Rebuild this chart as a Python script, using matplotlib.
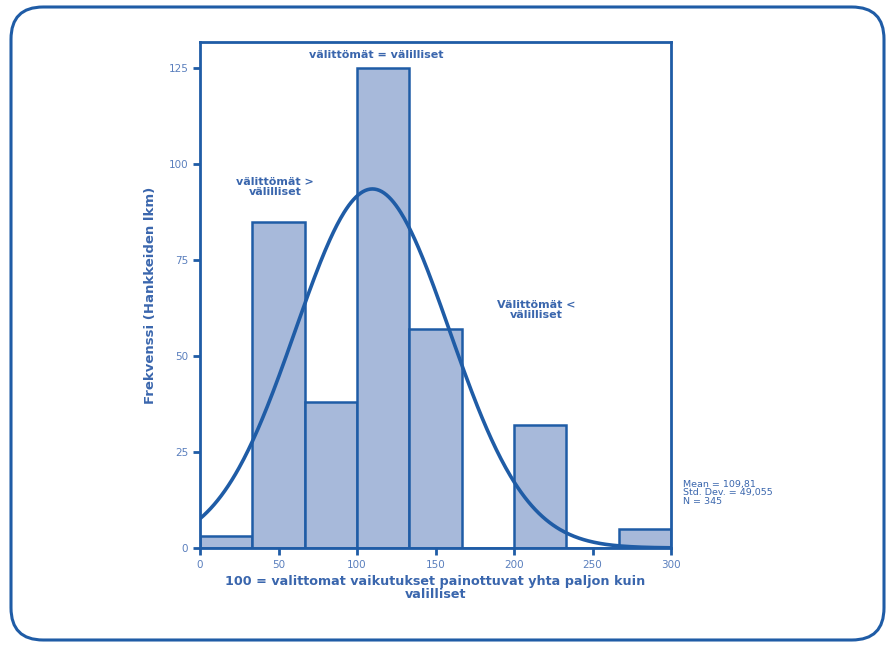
import numpy as np
import matplotlib
matplotlib.use("Agg")
import matplotlib.pyplot as plt
from matplotlib.patches import FancyBboxPatch

# Data
bin_edges = [0, 33.333, 66.667, 100, 133.333, 166.667, 200, 233.333, 266.667, 300]
counts = [3, 85, 38, 125, 57, 0, 32, 0, 5]
mean_val = 109.81
sd_val = 49.055
n_val = 345
x_ticks = [0, 50, 100, 150, 200, 250, 300]
y_ticks = [0, 25, 50, 75, 100, 125]

blue = "#1f5ca6"
txt = "#3a66ad"
fill = "#a7b9da"

fig = plt.figure(figsize=(8.93, 6.46), dpi=100)
frame = FancyBboxPatch((11/893, 6/646), (884-11)/893, (639-6)/646,
                       boxstyle="round,pad=0,rounding_size=0.036",
                       transform=fig.transFigure, fill=False,
                       edgecolor="#1f5ca6", linewidth=2.2, mutation_aspect=893/646)
fig.patches.append(frame)

ax = fig.add_axes([200/893, 1-548/646, (671-200)/893, (548-42)/646])
widths = np.diff(bin_edges)
ax.bar(bin_edges[:-1], counts, width=widths, align="edge", color=fill,
       edgecolor=blue, linewidth=1.8)
xs = np.linspace(0, 300, 400)
bw = 300/9
ys = n_val*bw/(sd_val*np.sqrt(2*np.pi))*np.exp(-0.5*((xs-mean_val)/sd_val)**2)
ax.plot(xs, ys, color=blue, linewidth=2.6)

ax.set_xlim(0, 300)
ax.set_ylim(0, 131.8)
ax.set_xticks(x_ticks)
ax.set_yticks(y_ticks)
for s in ax.spines.values():
    s.set_color(blue)
    s.set_linewidth(2)
ax.tick_params(axis="both", colors=blue, length=5, width=2, labelsize=7.5,
               labelcolor="#5a7fbd", direction="out")

ax.set_ylabel("Frekvenssi (Hankkeiden lkm)", color=txt, fontsize=9.5,
              fontweight="bold", labelpad=8)
ax.set_xlabel("100 = valittomat vaikutukset painottuvat yhta paljon kuin\nvalilliset",
              color=txt, fontsize=9.2, fontweight="bold", labelpad=4, linespacing=0.95)

ax.text(112, 128.5, "välittömät = välilliset", color=txt, fontsize=8, fontweight="bold",
        ha="center", va="center")
ax.text(48, 94, "välittömät >\nvälilliset", color=txt, fontsize=8, fontweight="bold",
        ha="center", va="center", linespacing=1.0)
ax.text(214, 62, "Välittömät <\nvälilliset", color=txt, fontsize=8, fontweight="bold",
        ha="center", va="center", linespacing=1.0)

stats = "Mean = {}\nStd. Dev. = {}\nN = {}".format(
    f"{mean_val:.2f}".replace(".", ","), f"{sd_val:.3f}".replace(".", ","), n_val)
fig.text(683/893, 1-493/646, stats, color=txt, fontsize=6.8, ha="left", va="center",
         linespacing=1.0)

fig.savefig("out.png", dpi=100)
